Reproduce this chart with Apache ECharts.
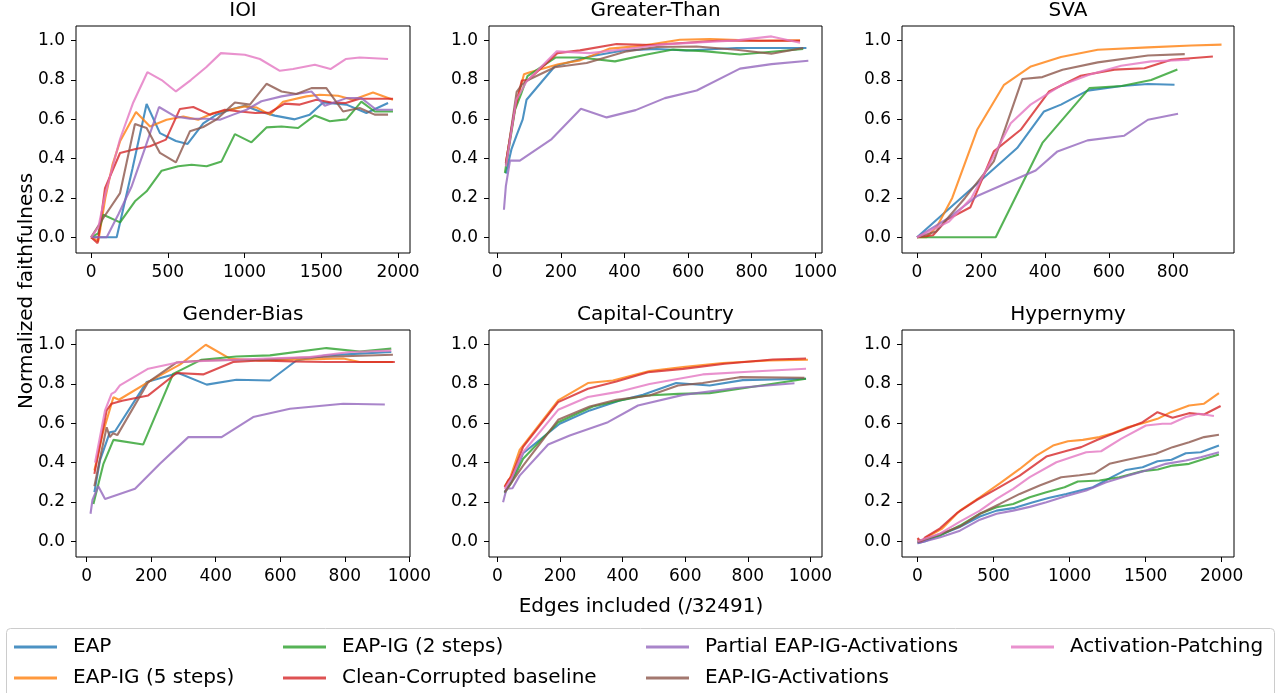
<!DOCTYPE html>
<html>
<head>
<meta charset="utf-8">
<script src="https://cdn.jsdelivr.net/npm/echarts@6/dist/echarts.min.js"></script>
<style>
  html, body { margin: 0; padding: 0; background: #fff; }
  #chart { width: 1281px; height: 693px; }
</style>
</head>
<body>
<div id="chart"></div>
<script>
// method names, in plotting order (matplotlib colour cycle)
const methods = ['EAP', 'EAP-IG (5 steps)', 'EAP-IG (2 steps)', 'Clean-Corrupted baseline',
                 'Partial EAP-IG-Activations', 'EAP-IG-Activations', 'Activation-Patching'];
const taskTitles = ['IOI', 'Greater-Than', 'SVA', 'Gender-Bias', 'Capital-Country', 'Hypernymy'];

// tick labels
const yTicks = [0, 0.2, 0.4, 0.6, 0.8, 1.0];
const xTicks2000 = [0, 500, 1000, 1500, 2000];
const xTicks1000 = [0, 200, 400, 600, 800, 1000];
const xTicks800 = [0, 200, 400, 600, 800];

// IOI  [edges, faithfulness]
const ioiEAP = [[0,0],[93,0],[167,0],[270,0.35],[362,0.678],[449,0.53],[553,0.49],[629,0.475],[731,0.58],[818,0.624],[910,0.65],[1002,0.669],[1100,0.64],[1197,0.619],[1327,0.60],[1425,0.624],[1512,0.686],[1600,0.68],[1664,0.675],[1794,0.632],[1935,0.683]];
const ioiIG5 = [[0,0],[47,-0.02],[93,0.2],[140,0.37],[189,0.488],[293,0.637],[384,0.564],[492,0.598],[601,0.615],[698,0.598],[796,0.632],[904,0.649],[1000,0.666],[1080,0.66],[1165,0.624],[1251,0.69],[1403,0.717],[1490,0.725],[1609,0.72],[1707,0.70],[1837,0.737],[1967,0.70]];
const ioiIG2 = [[0,0],[47,0.02],[80,0.115],[189,0.076],[286,0.183],[362,0.234],[460,0.339],[568,0.361],[655,0.369],[753,0.361],[850,0.386],[937,0.525],[1045,0.483],[1143,0.559],[1241,0.564],[1349,0.556],[1458,0.62],[1555,0.59],[1664,0.60],[1761,0.69],[1848,0.64],[1967,0.64]];
const ioiCC = [[0,0],[43,-0.03],[91,0.25],[189,0.429],[290,0.449],[384,0.463],[488,0.497],[579,0.653],[666,0.663],[774,0.624],[872,0.649],[970,0.64],[1070,0.632],[1165,0.635],[1262,0.68],[1360,0.675],[1468,0.70],[1566,0.686],[1659,0.683],[1750,0.705],[1967,0.705]];
const ioiPartial = [[0,0],[102,0],[180,0.12],[265,0.26],[350,0.45],[443,0.663],[547,0.615],[644,0.603],[753,0.603],[839,0.598],[926,0.624],[1013,0.649],[1110,0.692],[1241,0.717],[1436,0.742],[1523,0.669],[1664,0.708],[1761,0.708],[1859,0.649],[1967,0.649]];
const ioiAct = [[0,0],[80,0.098],[189,0.225],[286,0.576],[362,0.556],[449,0.429],[553,0.381],[644,0.539],[731,0.561],[818,0.60],[937,0.686],[1035,0.675],[1143,0.781],[1241,0.742],[1338,0.729],[1436,0.759],[1533,0.759],[1642,0.64],[1750,0.658],[1848,0.624],[1935,0.624]];
const ioiAP = [[0,0],[47,0.05],[93,0.22],[189,0.5],[275,0.686],[367,0.84],[460,0.80],[553,0.742],[650,0.80],[750,0.865],[846,0.937],[1002,0.929],[1100,0.907],[1230,0.847],[1316,0.856],[1458,0.878],[1560,0.856],[1659,0.907],[1750,0.915],[1935,0.907]];

// Greater-Than
const gtEAP = [[27,0.324],[45,0.45],[61,0.52],[80,0.6],[92,0.70],[181,0.87],[290,0.92],[396,0.95],[501,0.958],[595,0.95],[752,0.963],[972,0.963]];
const gtIG5 = [[27,0.378],[55,0.65],[84,0.83],[103,0.84],[192,0.88],[260,0.90],[354,0.96],[459,0.975],[574,1.005],[669,1.008],[826,1.0],[952,1.002]];
const gtIG2 = [[24,0.327],[56,0.65],[75,0.73],[95,0.82],[184,0.915],[260,0.915],[370,0.895],[470,0.93],[553,0.955],[648,0.947],[763,0.93],[962,0.958]];
const gtCC = [[27,0.378],[55,0.65],[77,0.797],[97,0.80],[189,0.937],[260,0.951],[375,0.983],[485,0.978],[595,0.99],[690,1.0],[815,1.0],[952,1.0]];
const gtPartial = [[21,0.14],[27,0.26],[40,0.39],[71,0.39],[171,0.50],[263,0.654],[344,0.61],[435,0.647],[527,0.708],[627,0.747],[763,0.858],[862,0.881],[978,0.898]];
const gtAct = [[27,0.37],[61,0.74],[77,0.776],[97,0.80],[181,0.865],[281,0.887],[407,0.946],[501,0.968],[627,0.971],[752,0.954],[862,0.934],[962,0.963]];
const gtAP = [[27,0.36],[60,0.7],[92,0.793],[187,0.946],[291,0.937],[407,0.958],[511,0.98],[648,0.993],[752,1.002],[862,1.022],[952,0.99]];

// SVA
const svaEAP = [[0,0],[313,0.454],[397,0.64],[450,0.675],[533,0.746],[640,0.77],[722,0.78],[805,0.776]];
const svaIG5 = [[0,0],[30,0],[63,0.056],[110,0.2],[188,0.547],[272,0.776],[356,0.869],[450,0.917],[565,0.954],[722,0.966],[858,0.976],[952,0.98]];
const svaIG2 = [[0,0],[246,0],[392,0.48],[539,0.759],[640,0.77],[732,0.80],[814,0.854]];
const svaCC = [[0,0],[50,0.01],[94,0.09],[167,0.153],[240,0.437],[324,0.547],[413,0.742],[512,0.822],[617,0.853],[711,0.86],[795,0.903],[925,0.92]];
const svaPartial = [[0,0],[100,0.1],[188,0.21],[272,0.27],[371,0.34],[439,0.437],[533,0.493],[648,0.517],[722,0.598],[816,0.629]];
const svaAct = [[0,0],[60,0.03],[150,0.2],[240,0.386],[329,0.805],[392,0.815],[455,0.852],[565,0.89],[722,0.925],[837,0.932]];
const svaAP = [[0,0],[100,0.08],[170,0.2],[245,0.43],[293,0.58],[355,0.675],[450,0.773],[538,0.827],[638,0.873],[732,0.895],[852,0.903]];

// Gender-Bias
const gbEAP = [[24,0.25],[41,0.41],[72,0.555],[88,0.56],[186,0.81],[284,0.856],[372,0.797],[464,0.822],[568,0.818],[650,0.92],[743,0.946],[944,0.963]];
const gbIG5 = [[24,0.36],[50,0.55],[83,0.733],[100,0.72],[201,0.82],[290,0.9],[369,1.0],[444,0.929],[536,0.92],[640,0.924],[795,0.93],[846,0.912],[949,0.912]];
const gbIG2 = [[21,0.19],[52,0.394],[83,0.516],[175,0.492],[268,0.852],[356,0.924],[464,0.94],[568,0.946],[743,0.983],[846,0.966],[944,0.98]];
const gbCC = [[24,0.343],[62,0.666],[77,0.70],[110,0.715],[191,0.742],[279,0.856],[361,0.849],[454,0.912],[536,0.92],[640,0.915],[743,0.912],[955,0.912]];
const gbPartial = [[12,0.14],[18,0.21],[36,0.28],[57,0.215],[150,0.267],[227,0.394],[315,0.53],[418,0.53],[516,0.632],[630,0.674],[795,0.70],[924,0.696]];
const gbAct = [[24,0.28],[45,0.45],[62,0.58],[72,0.53],[82,0.55],[95,0.54],[191,0.81],[279,0.91],[361,0.92],[550,0.925],[660,0.934],[774,0.94],[949,0.949]];
const gbAP = [[26,0.40],[57,0.666],[77,0.75],[88,0.76],[103,0.793],[191,0.878],[289,0.912],[402,0.92],[536,0.929],[691,0.937],[815,0.963],[944,0.97]];

// Capital-Country
const ccEAP = [[23,0.25],[45,0.31],[82,0.448],[199,0.598],[295,0.666],[391,0.716],[465,0.745],[571,0.805],[678,0.793],[784,0.82],[986,0.827]];
const ccIG5 = [[23,0.28],[40,0.32],[71,0.465],[194,0.717],[289,0.805],[369,0.818],[486,0.866],[593,0.886],[720,0.907],[869,0.92],[992,0.924]];
const ccIG2 = [[23,0.245],[45,0.3],[82,0.42],[194,0.606],[305,0.686],[391,0.716],[476,0.742],[578,0.75],[678,0.754],[774,0.776],[986,0.827]];
const ccCC = [[23,0.275],[34,0.31],[45,0.33],[82,0.48],[194,0.708],[289,0.776],[380,0.813],[481,0.86],[593,0.877],[726,0.903],[880,0.925],[986,0.93]];
const ccPartial = [[18,0.199],[29,0.267],[48,0.27],[71,0.334],[162,0.492],[231,0.538],[353,0.606],[449,0.691],[593,0.745],[763,0.78],[949,0.804]];
const ccAct = [[23,0.25],[45,0.3],[82,0.385],[194,0.618],[295,0.686],[380,0.72],[486,0.742],[577,0.793],[656,0.805],[774,0.835],[981,0.832]];
const ccAP = [[23,0.267],[45,0.32],[82,0.453],[194,0.669],[289,0.734],[385,0.76],[486,0.80],[656,0.849],[816,0.864],[986,0.878]];

// Hypernymy
const hyEAP = [[0,-0.01],[50,0.0],[138,0.029],[270,0.07],[410,0.126],[520,0.156],[640,0.17],[760,0.199],[860,0.22],[978,0.241],[1153,0.275],[1284,0.329],[1371,0.363],[1480,0.377],[1578,0.407],[1670,0.415],[1764,0.448],[1862,0.453],[1982,0.487]];
const hyIG5 = [[0,0.01],[30,0.0],[60,0.02],[159,0.063],[279,0.156],[410,0.224],[541,0.295],[672,0.368],[782,0.436],[891,0.487],[989,0.509],[1087,0.516],[1196,0.53],[1284,0.55],[1382,0.58],[1480,0.60],[1578,0.623],[1666,0.657],[1786,0.691],[1884,0.70],[1982,0.754]];
const hyIG2 = [[0,0],[150,0.03],[279,0.08],[410,0.14],[520,0.173],[629,0.19],[738,0.224],[847,0.25],[967,0.275],[1054,0.304],[1196,0.309],[1327,0.326],[1480,0.357],[1580,0.365],[1677,0.385],[1786,0.394],[1884,0.419],[1982,0.441]];
const hyCC = [[0,0.017],[25,-0.005],[50,0.02],[148,0.066],[258,0.143],[389,0.21],[520,0.267],[672,0.334],[847,0.431],[989,0.462],[1076,0.479],[1180,0.515],[1284,0.547],[1480,0.606],[1578,0.657],[1677,0.628],[1786,0.652],[1884,0.645],[1993,0.688]];
const hyPartial = [[0,-0.01],[150,0.02],[279,0.054],[410,0.11],[520,0.14],[629,0.156],[738,0.175],[847,0.199],[967,0.228],[1109,0.258],[1240,0.30],[1382,0.334],[1502,0.36],[1633,0.394],[1764,0.411],[1862,0.428],[1982,0.453]];
const hyAct = [[0,-0.005],[148,0.037],[279,0.075],[410,0.14],[541,0.19],[672,0.241],[803,0.284],[945,0.326],[1065,0.336],[1163,0.346],[1262,0.394],[1371,0.414],[1567,0.445],[1677,0.479],[1786,0.504],[1884,0.53],[1982,0.542]];
const hyAP = [[0,0],[150,0.04],[279,0.1],[410,0.156],[520,0.216],[629,0.267],[738,0.326],[913,0.402],[1109,0.453],[1207,0.458],[1338,0.521],[1502,0.589],[1611,0.598],[1666,0.598],[1764,0.632],[1851,0.649],[1949,0.637]];

const palette = ['#1f77b4', '#ff7f0e', '#2ca02c', '#d62728', '#9467bd', '#8c564b', '#e377c2'];
const FONT = '"DejaVu Sans", sans-serif';

// table for the library: one entry per subplot
const panels = [
  { series: [ioiEAP, ioiIG5, ioiIG2, ioiCC, ioiPartial, ioiAct, ioiAP], xTicks: xTicks2000, xMin: -98, xMax: 2078 },
  { series: [gtEAP, gtIG5, gtIG2, gtCC, gtPartial, gtAct, gtAP], xTicks: xTicks1000, xMin: -26, xMax: 1021 },
  { series: [svaEAP, svaIG5, svaIG2, svaCC, svaPartial, svaAct, svaAP], xTicks: xTicks800, xMin: -47, xMax: 991 },
  { series: [gbEAP, gbIG5, gbIG2, gbCC, gbPartial, gbAct, gbAP], xTicks: xTicks1000, xMin: -33, xMax: 1002 },
  { series: [ccEAP, ccIG5, ccIG2, ccCC, ccPartial, ccAct, ccAP], xTicks: xTicks1000, xMin: -27, xMax: 1037 },
  { series: [hyEAP, hyIG5, hyIG2, hyCC, hyPartial, hyAct, hyAP], xTicks: xTicks2000, xMin: -102, xMax: 2081 }
];

// subplot frames in px
const colLeft = [76, 489, 902];
const colWidth = [334, 333, 332];
const rowTop = [26, 330];
const plotH = 227;

const chart = echarts.init(document.getElementById('chart'), null, { renderer: 'canvas' });

const grids = [], xAxes = [], yAxes = [], seriesList = [], graphics = [];
panels.forEach((p, i) => {
  const col = i % 3, row = Math.floor(i / 3);
  grids.push({
    left: colLeft[col], top: rowTop[row], width: colWidth[col], height: plotH,
    show: true, borderColor: '#000', borderWidth: 1, backgroundColor: '#fff'
  });
  xAxes.push({
    type: 'value', gridIndex: i, min: p.xMin, max: p.xMax, position: 'bottom',
    axisLine: { show: false, onZero: false },
    splitLine: { show: false },
    axisTick: { show: true, length: 5, lineStyle: { color: '#000', width: 1 }, customValues: p.xTicks },
    axisLabel: { customValues: p.xTicks, color: '#000', fontFamily: FONT, fontSize: 17, margin: 11,
                 formatter: v => String(v) }
  });
  yAxes.push({
    type: 'value', gridIndex: i, min: -0.08, max: 1.075, position: 'left',
    axisLine: { show: false, onZero: false },
    splitLine: { show: false },
    axisTick: { show: true, length: 5, lineStyle: { color: '#000', width: 1 }, customValues: yTicks },
    axisLabel: { customValues: yTicks, color: '#000', fontFamily: FONT, fontSize: 17, margin: 11,
                 formatter: v => v.toFixed(1) }
  });
  p.series.forEach((pts, k) => {
    seriesList.push({
      name: methods[k], type: 'line', xAxisIndex: i, yAxisIndex: i,
      data: pts, symbol: 'none', showSymbol: false,
      color: palette[k],
      lineStyle: { width: 2.1, opacity: 0.8 },
      itemStyle: { opacity: 0.8 },
      z: 2 + k
    });
  });
  graphics.push({
    type: 'text', x: colLeft[col] + colWidth[col] / 2, y: rowTop[row] - 15,
    style: { text: taskTitles[i], font: '20px ' + FONT, fill: '#000',
             textAlign: 'center', textVerticalAlign: 'middle', align: 'center', verticalAlign: 'middle' }
  });
});

graphics.push({
  type: 'text', x: 641, y: 607,
  style: { text: 'Edges included (/32491)', font: '20px ' + FONT, fill: '#000',
           textAlign: 'center', textVerticalAlign: 'middle', align: 'center', verticalAlign: 'middle' }
});
graphics.push({
  type: 'text', x: 27, y: 291, rotation: Math.PI / 2,
  style: { text: 'Normalized faithfulness', font: '20px ' + FONT, fill: '#000',
           textAlign: 'center', textVerticalAlign: 'middle', align: 'center', verticalAlign: 'middle' }
});
// legend frame
graphics.push({
  type: 'rect', z: 0,
  shape: { x: 6.5, y: 628.5, width: 1268, height: 90, r: 4 },
  style: { fill: 'rgba(255,255,255,0.8)', stroke: '#cccccc', lineWidth: 1 }
});

// legend: 4 columns, column-major like matplotlib ncol=4
const legendCols = [[0, 1], [2, 3], [4, 5], [6]];
const legendLeft = [14, 283, 646, 1011];
const legends = legendCols.map((idx, c) => ({
  data: idx.map(k => methods[k]),
  orient: 'vertical', left: legendLeft[c], top: 637, padding: 0,
  itemWidth: 43, itemHeight: 3, itemGap: 11, icon: 'rect',
  selectedMode: false,
  textStyle: { fontFamily: FONT, fontSize: 20, color: '#000', lineHeight: 20, padding: [0, 0, 0, 11] }
}));

chart.setOption({
  animation: false,
  backgroundColor: '#fff',
  grid: grids,
  xAxis: xAxes,
  yAxis: yAxes,
  legend: legends,
  series: seriesList,
  graphic: graphics
});
</script>
</body>
</html>
